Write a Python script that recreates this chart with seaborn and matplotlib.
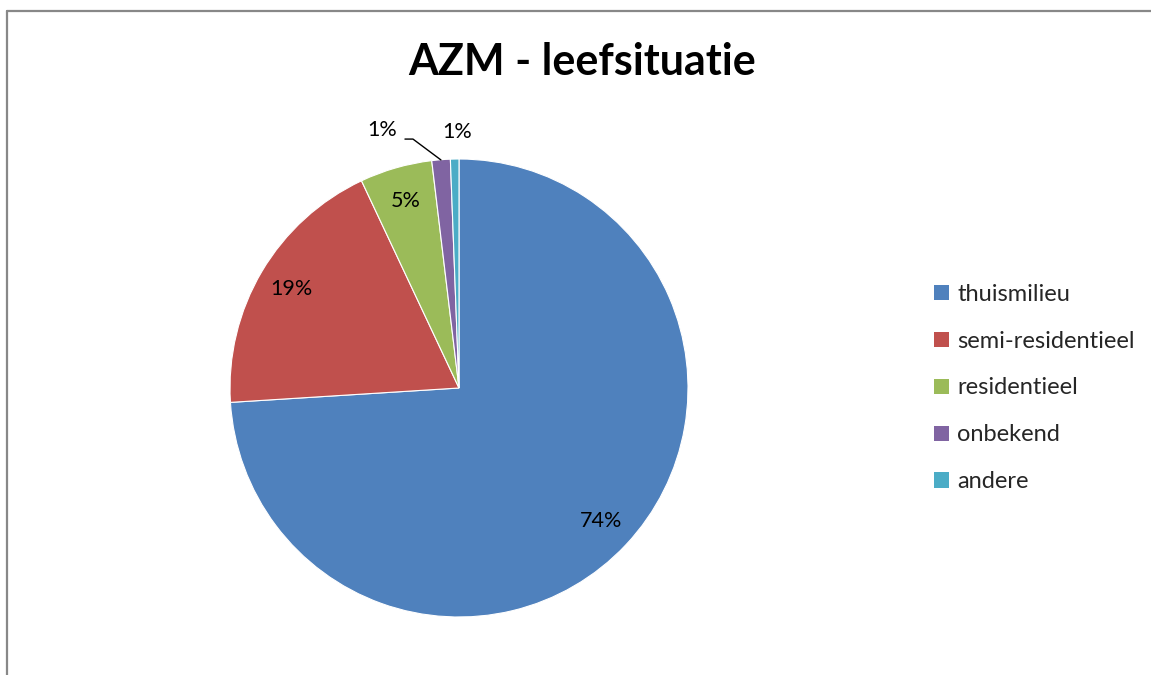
import matplotlib
matplotlib.use("Agg")
import matplotlib.pyplot as plt
import seaborn as sns
import numpy as np
from matplotlib.lines import Line2D
from matplotlib.patches import Patch

categories = ["thuismilieu", "semi-residentieel", "residentieel", "onbekend", "andere"]
values = [74.0, 19.0, 5.1, 1.3, 0.6]
colors = ["#4F81BD", "#C0504D", "#9BBB59", "#8064A2", "#4BACC6"]
title = "AZM - leefsituatie"

sns.set_theme(style="white")
plt.rcParams['font.family'] = ['Lato', 'DejaVu Sans']

W, H = 1151, 675
fig = plt.figure(figsize=(W / 100, H / 100), dpi=100)
fig.patch.set_facecolor("white")

cx, cy, r = 459, 388, 229
ax = fig.add_axes([(cx - r) / W, 1 - (cy + r) / H, 2 * r / W, 2 * r / H])

wedges, texts, autotexts = ax.pie(
    values, colors=colors, startangle=90, counterclock=False, radius=1,
    autopct=lambda p: f"{p:.0f}%", pctdistance=0.85,
    wedgeprops=dict(edgecolor="white", linewidth=0.8),
    textprops=dict(fontsize=15.5, color="black"))
ax.set_xlim(-1, 1)
ax.set_ylim(-1, 1)
ax.set_aspect("equal")
ax.axis("off")

# small slices: labels outside
autotexts[3].set_position((-0.335, 1.125))
autotexts[4].set_position((-0.01, 1.12))
for t in autotexts[3:]:
    t.set_ha("center")
    t.set_va("center")
# leader line for "onbekend"
ax.plot([-0.236, -0.201, -0.079], [1.087, 1.087, 0.996], color="black",
        linewidth=1, clip_on=False)

fig.text(582 / W, 1 - 62 / H, title, ha="center", va="center",
         fontsize=31, fontweight="bold", color="black")

handles = [Patch(facecolor=c, edgecolor="none") for c in colors]
leg = fig.legend(handles, categories, loc="center left",
                 bbox_to_anchor=(913 / W, 1 - 388 / H), frameon=False,
                 fontsize=17, handlelength=0.62, handleheight=0.62,
                 handletextpad=0.35, labelspacing=1.1)

# chart frame (partially visible)
fig.add_artist(Line2D([6.5 / W, 6.5 / W], [0, 1 - 10.5 / H], color="#888888",
                      linewidth=1.6, transform=fig.transFigure))
fig.add_artist(Line2D([6.5 / W, 1.01], [1 - 10.5 / H, 1 - 10.5 / H], color="#888888",
                      linewidth=1.6, transform=fig.transFigure))

fig.savefig("out.png", dpi=100, facecolor="white")
